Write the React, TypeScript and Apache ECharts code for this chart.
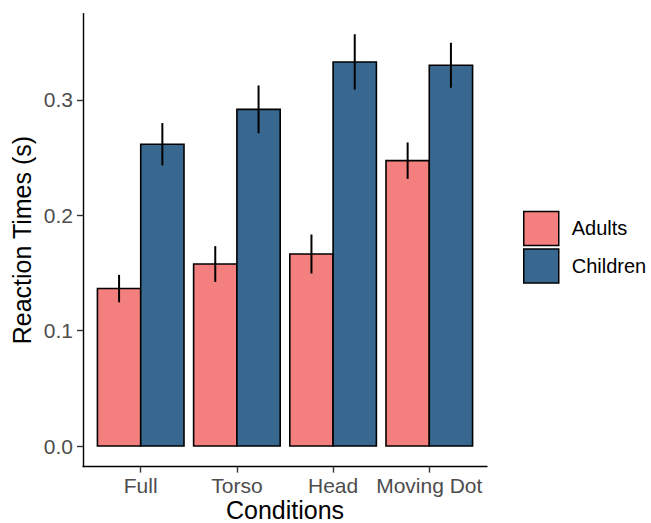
import React, { useEffect, useRef } from "react";
import * as echarts from "echarts";

const CATEGORIES = ["Full", "Torso", "Head", "Moving Dot"];
const GROUPS = ["Adults", "Children"];
const ADULTS_MEAN = [0.1365, 0.1578, 0.1665, 0.2474];
const ADULTS_ERR = [0.0119, 0.0155, 0.0169, 0.0158];
const CHILDREN_MEAN = [0.2616, 0.2919, 0.333, 0.3301];
const CHILDREN_ERR = [0.0184, 0.0207, 0.024, 0.0195];
const Y_TICKS = [0, 0.1, 0.2, 0.3];
const X_TICKS = [1, 2, 3, 4];

const COLORS = ["#F47F7F", "#386890"];
const FONT = "'Liberation Sans', Arial, Helvetica, sans-serif";
const HALF = 0.45;

export default function App() {
  const ref = useRef<HTMLDivElement>(null);

  useEffect(() => {
    if (!ref.current) return;
    const chart = echarts.init(ref.current, undefined, { renderer: "svg" });

    const makeData = (means: number[], errs: number[]) =>
      means.map((m, i) => [i + 1, m, errs[i]]);

    const barSeries = (name: string, idx: number, means: number[], errs: number[]) => {
      const lo = idx === 0 ? -HALF : 0;
      const hi = idx === 0 ? 0 : HALF;
      return {
        type: "custom",
        name,
        itemStyle: { color: COLORS[idx], borderColor: "#000", borderWidth: 1.5 },
        data: makeData(means, errs),
        renderItem: (params: any, api: any) => {
          const x = api.value(0);
          const v = api.value(1);
          const e = api.value(2);
          const p0 = api.coord([x + lo, v]);
          const p1 = api.coord([x + hi, 0]);
          const xm = (lo + hi) / 2 + x;
          const e0 = api.coord([xm, v - e]);
          const e1 = api.coord([xm, v + e]);
          return {
            type: "group",
            children: [
              {
                type: "rect",
                shape: { x: p0[0], y: p0[1], width: p1[0] - p0[0], height: p1[1] - p0[1] },
                style: { fill: COLORS[idx], stroke: "#000", lineWidth: 1.6 },
              },
              {
                type: "line",
                shape: { x1: e0[0], y1: e0[1], x2: e1[0], y2: e1[1] },
                style: { stroke: "#000", lineWidth: 2 },
              },
            ],
          };
        },
      };
    };

    chart.setOption({
      animation: false,
      textStyle: { fontFamily: FONT },
      grid: {
        left: 83,
        right: 164,
        top: 13.6,
        bottom: 56.4,
        containLabel: false,
        outerBoundsMode: "none",
      },
      legend: {
        orient: "vertical",
        left: 523,
        top: 210.7,
        padding: 0,
        icon: "rect",
        itemWidth: 35,
        itemHeight: 34,
        itemGap: 2,
        textStyle: { fontSize: 20, color: "#000", fontFamily: FONT, padding: [0, 0, 0, 8] },
        data: GROUPS.map((g, i) => ({
          name: g,
          itemStyle: { color: COLORS[i], borderColor: "#000", borderWidth: 1.5 },
        })),
      },
      xAxis: {
        type: "value",
        min: 0.4,
        max: 4.6,
        name: "Conditions",
        nameLocation: "middle",
        nameGap: 33,
        nameMoveOverlap: false,
        nameTextStyle: { fontSize: 25, lineHeight: 20, color: "#000", fontFamily: FONT },
        axisLine: { onZero: false, lineStyle: { color: "#000", width: 1.4 } },
        axisTick: { customValues: X_TICKS, length: 6, lineStyle: { color: "#333", width: 1.4 } },
        axisLabel: {
          customValues: X_TICKS,
          fontSize: 21,
          color: "#4D4D4D",
          margin: 8,
          formatter: (v: number) => CATEGORIES[Math.round(v) - 1] ?? "",
        },
        splitLine: { show: false },
      },
      yAxis: {
        type: "value",
        min: -0.01785,
        max: 0.3749,
        name: "Reaction Times (s)",
        nameLocation: "middle",
        nameGap: 49,
        nameMoveOverlap: false,
        nameTextStyle: { fontSize: 25, color: "#000", fontFamily: FONT },
        axisLine: { show: true, onZero: false, lineStyle: { color: "#000", width: 1.4 } },
        axisTick: { show: true, customValues: Y_TICKS, length: 6, lineStyle: { color: "#333", width: 1.4 } },
        axisLabel: {
          customValues: Y_TICKS,
          fontSize: 21,
          color: "#4D4D4D",
          margin: 10,
          formatter: (v: number) => v.toFixed(1),
        },
        splitLine: { show: false },
      },
      series: [
        barSeries("Adults", 0, ADULTS_MEAN, ADULTS_ERR),
        barSeries("Children", 1, CHILDREN_MEAN, CHILDREN_ERR),
      ],
    });

    return () => chart.dispose();
  }, []);

  return (
    <div
      ref={ref}
      style={{ position: "fixed", left: 0, top: 0, width: 651, height: 523, background: "#fff" }}
    />
  );
}
